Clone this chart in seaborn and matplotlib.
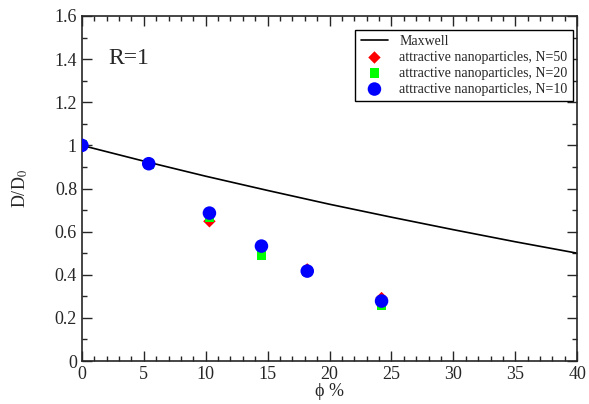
import numpy as np
import pandas as pd
import matplotlib
matplotlib.use('Agg')
import matplotlib.pyplot as plt
import seaborn as sns
from matplotlib.ticker import MultipleLocator

# Maxwell curve
phi_maxwell = [0, 5, 10, 15, 20, 25, 30, 35, 40]
d_maxwell = [1.0, 0.927, 0.857, 0.791, 0.727, 0.667, 0.609, 0.553, 0.5]

# simulation points
phi = [0, 5.4, 10.3, 14.5, 18.2, 24.2]
d_n50 = [1.0, 0.915, 0.648, 0.525, 0.425, 0.292]
d_n20 = [1.0, 0.915, 0.668, 0.493, 0.415, 0.258]
d_n10 = [1.0, 0.915, 0.686, 0.533, 0.417, 0.278]

sns.set_style('ticks')
plt.rcParams['font.family'] = ['Liberation Serif', 'DejaVu Serif']
plt.rcParams['mathtext.fontset'] = 'stix'

fig = plt.figure(figsize=(5.89, 4.04), dpi=100)
ax = fig.add_axes([0.139, 0.1064, 0.841, 0.8540])

df_m = pd.DataFrame({'phi': phi_maxwell, 'D': d_maxwell})
sns.lineplot(data=df_m, x='phi', y='D', color='black', linewidth=1.2, ax=ax, label='Maxwell')

sns.scatterplot(x=phi, y=d_n50, marker='D', s=40, color='red', edgecolor='none', ax=ax,
                label='attractive nanoparticles, N=50', zorder=3)
sns.scatterplot(x=phi, y=d_n20, marker='s', s=50, color='#00ff00', edgecolor='none', ax=ax,
                label='attractive nanoparticles, N=20', zorder=4)
sns.scatterplot(x=phi, y=d_n10, marker='o', s=95, color='blue', edgecolor='none', ax=ax,
                label='attractive nanoparticles, N=10', zorder=5)

ax.set_xlim(0, 40)
ax.set_ylim(0, 1.6)
ax.xaxis.set_major_locator(MultipleLocator(5))
ax.xaxis.set_minor_locator(MultipleLocator(1))
ax.yaxis.set_minor_locator(MultipleLocator(0.1))
ax.set_yticks([0, 0.2, 0.4, 0.6, 0.8, 1.0, 1.2, 1.4, 1.6])
ax.set_yticklabels(['0', '0.2', '0.4', '0.6', '0.8', '1', '1.2', '1.4', '1.6'])
ax.tick_params(which='both', direction='in', top=True, right=True, labelsize=13, width=1)
ax.tick_params(which='major', length=7)
ax.tick_params(which='minor', length=3.5)
for s in ax.spines.values():
    s.set_linewidth(1.2)
    s.set_visible(True)

ax.set_xlabel('ϕ %', fontsize=13, labelpad=0)
ax.set_ylabel(r'D/D$_0$', fontsize=13, labelpad=18)
ax.text(0.053, 0.86, 'R=1', transform=ax.transAxes, fontsize=17)

leg = ax.legend(loc='upper right', bbox_to_anchor=(0.992, 0.96), borderaxespad=0, fontsize=10,
                frameon=True, fancybox=False, edgecolor='black', framealpha=1, handlelength=2,
                borderpad=0.4, labelspacing=0.2, handletextpad=0.8)
leg.get_frame().set_linewidth(1.0)

fig.savefig('out.png', dpi=100)
